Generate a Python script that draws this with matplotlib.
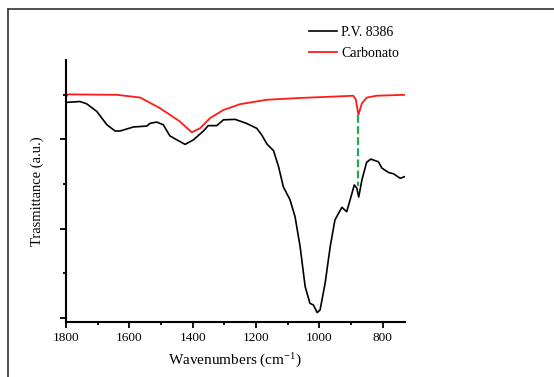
import matplotlib
matplotlib.use("Agg")
import matplotlib.pyplot as plt
from matplotlib.lines import Line2D
from matplotlib.ticker import MultipleLocator

# Spettro P.V. 8386 (unità arbitrarie)
pv_wn = [1800, 1756, 1735, 1703, 1671, 1645, 1629, 1587, 1545, 1535, 1514, 1493,
         1472, 1450, 1424, 1398, 1366, 1351, 1324, 1303, 1266, 1230, 1198, 1182,
         1166, 1145, 1129, 1114, 1093, 1077, 1061, 1045, 1030, 1019, 1007, 998,
         982, 966, 951, 929, 914, 903, 890, 882, 876, 866, 851, 838, 814, 803,
         782, 766, 745, 730]
pv_t = [48.3, 48.5, 48.0, 46.3, 43.3, 41.9, 41.9, 42.8, 43.0, 43.6, 43.9, 43.3,
        40.8, 39.9, 38.9, 39.9, 41.9, 43.1, 43.1, 44.4, 44.5, 43.6, 42.5, 41.0,
        39.0, 37.5, 33.9, 29.4, 26.5, 22.7, 16.0, 7.0, 3.3, 2.9, 1.2, 1.8,
        7.8, 16.0, 22.0, 24.8, 23.8, 26.5, 29.8, 29.1, 27.1, 30.9, 34.9, 35.6,
        35.0, 33.6, 32.6, 32.3, 31.3, 31.7]

# Spettro del carbonato
carb_wn = [1800, 1793, 1640, 1566, 1503, 1440, 1403, 1377, 1345, 1303, 1251,
           1166, 1061, 956, 893, 885, 877, 866, 850, 819, 730]
carb_t = [49.6, 50.1, 50.0, 49.4, 47.0, 44.0, 41.6, 42.5, 44.8, 46.6, 47.9,
          48.9, 49.3, 49.6, 49.8, 48.9, 45.5, 48.1, 49.4, 49.8, 50.0]

# banda del carbonato ~877 cm-1
band_wn = 877
band_top = 45.5
band_bottom = 29.6

plt.rcParams["font.family"] = ["Liberation Serif", "DejaVu Serif"]
plt.rcParams["mathtext.fontset"] = "stix"

fig = plt.figure(figsize=(5.54, 3.77), dpi=100)
ax = fig.add_axes([0.1191, 0.1459, 0.6119, 0.6949])

ax.plot(pv_wn, pv_t, color="black", lw=1.2, label="P.V. 8386")
ax.plot(carb_wn, carb_t, color="#ff1a1a", lw=1.3, label="Carbonato")
ax.plot([band_wn, band_wn], [band_top, band_bottom], color="#1faa55",
        lw=1.6, ls=(0, (3.5, 1.5)))

ax.set_xlim(1800, 730)
ax.set_ylim(-0.9, 57.8)
ax.xaxis.set_major_locator(MultipleLocator(200))
ax.xaxis.set_minor_locator(MultipleLocator(100))
ax.yaxis.set_major_locator(MultipleLocator(20))
ax.yaxis.set_minor_locator(MultipleLocator(10))
ax.set_yticklabels([])
ax.tick_params(which="both", direction="out", width=1.3, labelsize=9.5)
ax.tick_params(which="major", length=4)
ax.tick_params(which="minor", length=2.5)
for s in ["top", "right"]:
    ax.spines[s].set_visible(False)
for s in ["left", "bottom"]:
    ax.spines[s].set_linewidth(1.5)

ax.set_xlabel("Wavenumbers (cm$^{\\mathregular{-1}}$)", fontsize=11, labelpad=4)
ax.set_ylabel("Trasmittance (a.u.)", fontsize=10.5, labelpad=8)

fig.legend(loc="upper left", bbox_to_anchor=(0.548, 0.947), frameon=False,
           fontsize=10, handlelength=2.0, handletextpad=0.3, labelspacing=0.6,
           borderaxespad=0)

# cornice esterna
fig.add_artist(Line2D([0.0145, 0.0145], [0.0, 0.976], transform=fig.transFigure,
                      color="#333333", lw=1.2))
fig.add_artist(Line2D([0.0145, 1.0], [0.976, 0.976], transform=fig.transFigure,
                      color="#333333", lw=1.2))

fig.savefig("out.png", dpi=100)
